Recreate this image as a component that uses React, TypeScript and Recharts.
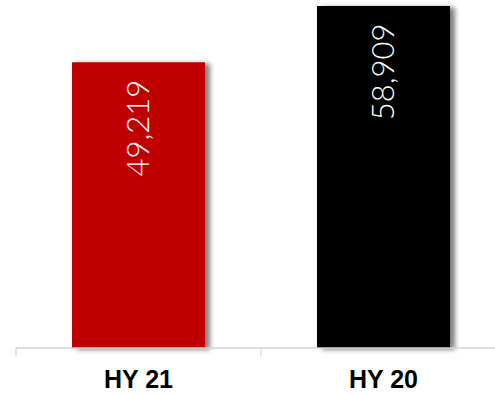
import { BarChart, Bar, XAxis, YAxis, Cell, LabelList } from "recharts";

const categories = ["HY 21", "HY 20"];
const values = [49219, 58909];
const barColors = ["#c00000", "#000000"];

const chartWidth = 506;
const chartHeight = 394;
const axisHeight = 46;
const margin = { top: 6, right: 0, bottom: 0, left: 16 };
const bandWidth = (chartWidth - margin.left - margin.right) / categories.length;

const data = categories.map((name, i) => ({ name, value: values[i] }));

function ShadowBar(props: any) {
  const { x, y, width, height, fill, index } = props;
  const id = `bar-shadow-${index}`;
  return (
    <g>
      <defs>
        <filter id={id} x="-20%" y="-20%" width="150%" height="150%">
          <feDropShadow dx="5" dy="1.5" stdDeviation="2.6" floodColor="#000" floodOpacity="0.5" />
        </filter>
      </defs>
      <rect x={x} y={y} width={width} height={height} fill={fill} filter={`url(#${id})`} />
    </g>
  );
}

function ValueLabel(props: any) {
  const { x, y, width, value } = props;
  const cx = x + width / 2;
  return (
    <text
      transform={`translate(${cx + 10}, ${y + 17.5}) rotate(-90)`}
      textAnchor="end"
      fill="#ffffff"
      fontFamily="Lato"
      fontWeight={300}
      fontSize={31}
    >
      {Number(value).toLocaleString("en-US")}
    </text>
  );
}

function CategoryTick(props: any) {
  const { x, y, payload, index } = props;
  const left = x - bandWidth / 2;
  const right = x + bandWidth / 2;
  return (
    <g>
      <line x1={left} y1={y} x2={left} y2={y + 8} stroke="#d4d4d4" strokeWidth={1.2} />
      {index === categories.length - 1 && (
        <line x1={right} y1={y} x2={right} y2={y + 8} stroke="#d4d4d4" strokeWidth={1.2} />
      )}
      <text
        x={x}
        y={y + 40}
        textAnchor="middle"
        fill="#000000"
        fontFamily="Liberation Sans, Arial, sans-serif"
        fontWeight="bold"
        fontSize={25}
      >
        {payload.value}
      </text>
    </g>
  );
}

export default function App() {
  return (
    <div
      style={{
        position: "absolute",
        left: 0,
        top: 0,
        width: 495,
        height: chartHeight,
        overflow: "hidden",
        background: "#ffffff",
      }}
    >
      <BarChart width={chartWidth} height={chartHeight} data={data} margin={margin}>
        <XAxis
          dataKey="name"
          height={axisHeight}
          axisLine={{ stroke: "#d4d4d4", strokeWidth: 1.5 }}
          tickLine={false}
          tickSize={0}
          tickMargin={0}
          interval={0}
          tick={<CategoryTick />}
        />
        <YAxis hide domain={[0, "dataMax"]} />
        <Bar dataKey="value" barSize={133} shape={<ShadowBar />} isAnimationActive={false}>
          {data.map((entry, i) => (
            <Cell key={entry.name} fill={barColors[i]} />
          ))}
          <LabelList dataKey="value" content={<ValueLabel />} />
        </Bar>
      </BarChart>
    </div>
  );
}
